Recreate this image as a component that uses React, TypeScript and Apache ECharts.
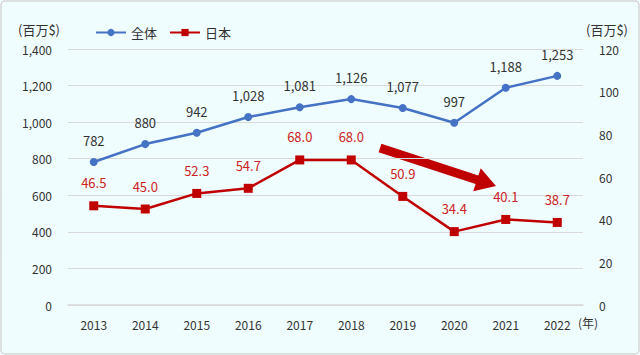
import React, { useEffect, useRef } from "react";
import * as echarts from "echarts";

const years = ["2013", "2014", "2015", "2016", "2017", "2018", "2019", "2020", "2021", "2022"];
const totalValues = [782, 880, 942, 1028, 1081, 1126, 1077, 997, 1188, 1253];
const japanValues = [46.5, 45.0, 52.3, 54.7, 68.0, 68.0, 50.9, 34.4, 40.1, 38.7];
const leftTicks = [0, 1400, 200];
const rightTicks = [0, 120, 20];

const FONT = "'Noto Sans CJK JP', 'Noto Sans', sans-serif";

function arrowPoints(x1: number, y1: number, x2: number, y2: number, shaft: number, headW: number, headL: number) {
  const dx = x2 - x1, dy = y2 - y1;
  const len = Math.sqrt(dx * dx + dy * dy);
  const ux = dx / len, uy = dy / len;
  const px = -uy, py = ux;
  const bx = x2 - ux * headL, by = y2 - uy * headL;
  const s = shaft / 2, h = headW / 2;
  return [
    [x1 + px * s, y1 + py * s],
    [bx + px * s, by + py * s],
    [bx + px * h, by + py * h],
    [x2, y2],
    [bx - px * h, by - py * h],
    [bx - px * s, by - py * s],
    [x1 - px * s, y1 - py * s],
  ];
}

export default function App() {
  const ref = useRef<HTMLDivElement>(null);
  useEffect(() => {
    document.body.style.margin = "0";
    const chart = echarts.init(ref.current!, null, { renderer: "svg" });
    chart.setOption({
      animation: false,
      backgroundColor: "#effdfe",
      textStyle: { fontFamily: FONT },
      legend: {
        left: 90,
        top: 21,
        itemWidth: 30,
        itemHeight: 9,
        itemGap: 12,
        textStyle: { fontSize: 13, color: "#333", fontFamily: FONT },
        data: ["全体", "日本"],
      },
      grid: { left: 68, right: 57, top: 49, bottom: 50 },
      xAxis: {
        type: "category",
        data: years,
        boundaryGap: true,
        axisLine: { lineStyle: { color: "#d9d9d9", width: 1.5 } },
        axisTick: { show: false },
        axisLabel: { color: "#333", fontSize: 12, margin: 13, fontFamily: FONT },
      },
      yAxis: [
        {
          type: "value",
          min: leftTicks[0],
          max: leftTicks[1],
          interval: leftTicks[2],
          axisLine: { show: false },
          axisTick: { show: false },
          splitLine: { lineStyle: { color: "#d9d9d9", width: 1.2 } },
          axisLabel: {
            color: "#333",
            fontSize: 12,
            margin: 16,
            fontFamily: FONT,
            formatter: (v: number) => v.toLocaleString("en-US"),
          },
        },
        {
          type: "value",
          min: rightTicks[0],
          max: rightTicks[1],
          interval: rightTicks[2],
          axisLine: { show: false },
          axisTick: { show: false },
          splitLine: { show: false },
          axisLabel: { color: "#333", fontSize: 12, margin: 16, fontFamily: FONT },
        },
      ],
      series: [
        {
          name: "全体",
          type: "line",
          yAxisIndex: 0,
          data: totalValues,
          symbol: "circle",
          symbolSize: 8,
          color: "#4472c4",
          lineStyle: { width: 2.5, color: "#4472c4" },
          itemStyle: { color: "#4472c4" },
          label: {
            show: true,
            position: "top",
            distance: 11,
            color: "#333",
            fontSize: 13,
            fontFamily: FONT,
            formatter: (p: any) => Number(p.value).toLocaleString("en-US"),
          },
        },
        {
          name: "日本",
          type: "line",
          yAxisIndex: 1,
          data: japanValues,
          symbol: "rect",
          symbolSize: 9,
          color: "#c00000",
          lineStyle: { width: 2.5, color: "#c00000" },
          itemStyle: { color: "#c00000" },
          label: {
            show: true,
            position: "top",
            distance: 12,
            color: "#cc2222",
            fontSize: 13,
            fontFamily: FONT,
            formatter: (p: any) => Number(p.value).toFixed(1),
          },
        },
      ],
      graphic: [
        {
          type: "rect",
          shape: { x: 1, y: 1, width: 638, height: 353, r: 4 },
          style: { fill: "none", stroke: "#d6d6d6", lineWidth: 1.5 },
          silent: true,
        },
        {
          type: "text",
          left: 18,
          top: 23,
          style: { text: "(百万$)", fill: "#333", fontSize: 13, fontFamily: FONT },
        },
        {
          type: "text",
          right: 12,
          top: 23,
          style: { text: "(百万$)", fill: "#333", fontSize: 13, fontFamily: FONT },
        },
        {
          type: "text",
          left: 578,
          top: 316,
          style: { text: "(年)", fill: "#333", fontSize: 12, fontFamily: FONT },
        },
        {
          type: "polygon",
          shape: { points: arrowPoints(380, 148, 496, 186, 9, 24, 20) },
          style: { fill: "#c00000" },
        },
      ],
    });
    return () => chart.dispose();
  }, []);
  return <div ref={ref} style={{ width: 640, height: 355 }} />;
}
